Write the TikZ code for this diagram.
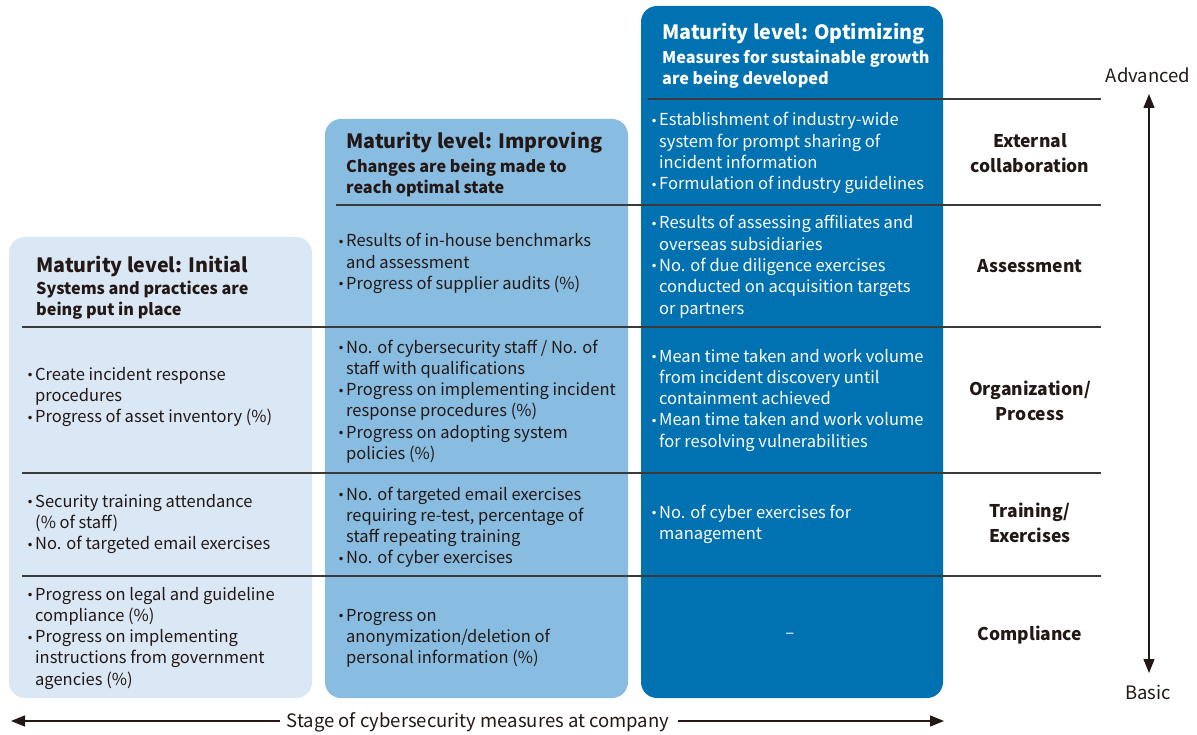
\documentclass[tikz,border=0pt]{standalone}
\usepackage{fontspec}
\setmainfont{Noto Sans CJK JP}
\newfontfamily\bulletfont{DejaVu Sans}
\usetikzlibrary{arrows.meta}

\definecolor{inkdark}{HTML}{231815}
\definecolor{ruleline}{HTML}{3A3A3A}
\definecolor{lvlinitial}{HTML}{DAE7F4}
\definecolor{lvlimproving}{HTML}{88BDE1}
\definecolor{lvloptimizing}{HTML}{0071B1}

% bullet and hanging indent for the measure lists
\newcommand{\bul}{\makebox[9pt][l]{\hspace{0.5pt}\raisebox{0.6pt}{\bulletfont\fontsize{12}{12}\selectfont •}}}
\newcommand{\ind}{\hspace*{9pt}}

% multi-line nodes are placed by the baseline of their last line
\tikzset{
  lvlbox/.style={rounded corners=16pt, draw=none},
  title/.style={anchor=base west, inner sep=0pt, font=\bfseries\fontsize{19.7}{24}\selectfont},
  subtitle/.style={anchor=base west, inner sep=0pt, align=left, font=\bfseries\fontsize{16.2}{21}\selectfont},
  items/.style={anchor=base west, inner sep=0pt, align=left, font=\fontsize{16.5}{21.3}\selectfont},
  rowlabel/.style={align=center, inner sep=0pt, font=\bfseries\fontsize{17.5}{24.5}\selectfont, text=inkdark},
  sep/.style={ruleline, line width=1.1pt},
  axis/.style={inkdark, line width=1.3pt, -{Triangle[width=11pt,length=14pt]}},
  axislabel/.style={inner sep=0pt, font=\fontsize{18.5}{22}\selectfont, text=inkdark},
}

\begin{document}
\begin{tikzpicture}[x=1pt, y=-1pt]
\useasboundingbox (0,0) rectangle (1197,735);

% the three maturity columns
\fill[lvlbox, lvlinitial]    (9,237) rectangle (312,698);
\fill[lvlbox, lvlimproving]  (325,119) rectangle (628,698);
\fill[lvlbox, lvloptimizing] (641,6) rectangle (943,698);

% row separators
\coordinate (r0a) at (648,99);  \coordinate (r0b) at (1101,99);
\coordinate (r1a) at (336,205); \coordinate (r1b) at (1101,205);
\coordinate (r2a) at (22,327);  \coordinate (r2b) at (1101,327);
\coordinate (r3a) at (22,473);  \coordinate (r3b) at (1101,473);
\coordinate (r4a) at (22,576);  \coordinate (r4b) at (1101,576);
\draw[sep] (r0a) -- (r0b);
\draw[sep] (r1a) -- (r1b);
\draw[sep] (r2a) -- (r2b);
\draw[sep] (r3a) -- (r3b);
\draw[sep] (r4a) -- (r4b);

% --- Initial ---
\begin{scope}[every node/.append style={text=inkdark}]
\node[title] (ini-t) at (36,273) {Maturity level: Initial};
\node[subtitle] (ini-s) at (36,316) {Systems and practices are\\being put in place};
\node[items] (ini-org) at (26,422.6) {\bul Create incident response\\\ind procedures\\\bul Progress of asset inventory (\%)};
\node[items] (ini-trn) at (26,549.6) {\bul Security training attendance\\\ind (\% of staff)\\\bul No. of targeted email exercises};
\node[items] (ini-cmp) at (26,685.2) {\bul Progress on legal and guideline\\\ind compliance (\%)\\\bul Progress on implementing\\\ind instructions from government\\\ind agencies (\%)};
\end{scope}

% --- Improving ---
\begin{scope}[every node/.append style={text=inkdark}]
\node[title] (imp-t) at (346,149) {Maturity level: Improving};
\node[subtitle] (imp-s) at (346,194) {Changes are being made to\\reach optimal state};
\node[items] (imp-asm) at (337,289.6) {\bul Results of in-house benchmarks\\\ind and assessment\\\bul Progress of supplier audits (\%)};
\node[items] (imp-org) at (337,459.5) {\bul No. of cybersecurity staff / No. of\\\ind staff with qualifications\\\bul Progress on implementing incident\\\ind response procedures (\%)\\\bul Progress on adopting system\\\ind policies (\%)};
\node[items] (imp-trn) at (337,563.9) {\bul No. of targeted email exercises\\\ind requiring re-test, percentage of\\\ind staff repeating training\\\bul No. of cyber exercises};
\node[items] (imp-cmp) at (337,663.6) {\bul Progress on\\\ind anonymization/deletion of\\\ind personal information (\%)};
\end{scope}

% --- Optimizing ---
\begin{scope}[every node/.append style={text=white}]
\node[title] (opt-t) at (662,40) {Maturity level: Optimizing};
\node[subtitle] (opt-s) at (662,85) {Measures for sustainable growth\\are being developed};
\node[items] (opt-ext) at (650,189.9) {\bul Establishment of industry-wide\\\ind system for prompt sharing of\\\ind incident information\\\bul Formulation of industry guidelines};
\node[items] (opt-asm) at (650,314.2) {\bul Results of assessing affiliates and\\\ind overseas subsidiaries\\\bul No. of due diligence exercises\\\ind conducted on acquisition targets\\\ind or partners};
\node[items] (opt-org) at (650,447.2) {\bul Mean time taken and work volume\\\ind from incident discovery until\\\ind containment achieved\\\bul Mean time taken and work volume\\\ind for resolving vulnerabilities};
\node[items] (opt-trn) at (650,539.3) {\bul No. of cyber exercises for\\\ind management};
\node[inner sep=0pt, font=\fontsize{17}{20}\selectfont] (opt-cmp) at (790,636) {–};
\end{scope}

% --- row labels ---
\node[rowlabel] (lab-ext) at (1030,153) {External\\collaboration};
\node[rowlabel] (lab-asm) at (1030,266) {Assessment};
\node[rowlabel] (lab-org) at (1030,401) {Organization/\\Process};
\node[rowlabel] (lab-trn) at (1030,523) {Training/\\Exercises};
\node[rowlabel] (lab-cmp) at (1030,635) {Compliance};

% --- vertical scale ---
\node[axislabel] (adv) at (1148,75) {Advanced};
\node[axislabel] (bas) at (1148,692) {Basic};
\coordinate (vtop) at (1149,94);
\coordinate (vbot) at (1149,673);
\coordinate (vmid) at (1149,400);
\draw[axis] (vmid) -- (vtop);
\draw[axis] (vmid) -- (vbot);

% --- horizontal stage axis ---
\node[axislabel] (stage) at (478,722) {Stage of cybersecurity measures at company};
\coordinate (hleft) at (11,721);
\coordinate (hright) at (944,721);
\draw[axis, shorten <=7pt] (stage.west |- hleft) -- (hleft);
\draw[axis, shorten <=9pt] (stage.east |- hright) -- (hright);
\end{tikzpicture}
\end{document}
